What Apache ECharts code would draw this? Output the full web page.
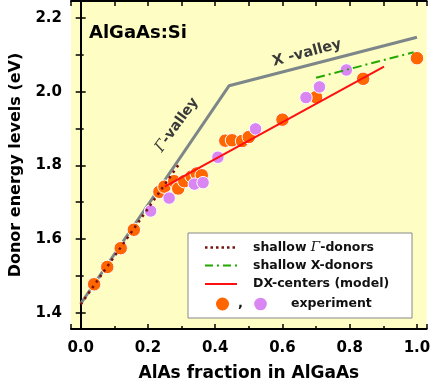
<!DOCTYPE html>
<html><head><meta charset="utf-8">
<script src="https://cdn.jsdelivr.net/npm/echarts@6/dist/echarts.min.js"></script>
<style>html,body{margin:0;padding:0;background:#fff}#c{width:433px;height:387px}</style>
</head><body><div id="c"></div>
<script>
// Band edges (gray): Gamma-valley then X-valley
const valleyX = [0, 0.441, 1.0];
const valleyY = [1.424, 2.016, 2.148];
// shallow Gamma-donors (dotted)
const gammaDonorX = [0, 0.29];
const gammaDonorY = [1.422, 1.800];
// shallow X-donors (dash-dot)
const xDonorX = [0.70, 0.99];
const xDonorY = [2.038, 2.107];
// DX-centers (model)
const dxX = [0.25, 0.902];
const dxY = [1.742, 2.068];
// experiment (orange)
const orangeX = [0.04, 0.079, 0.119, 0.158, 0.234, 0.249, 0.278, 0.29, 0.308, 0.33, 0.345, 0.36, 0.43, 0.45, 0.48, 0.50, 0.60, 0.70, 0.84, 1.0];
const orangeY = [1.477, 1.524, 1.575, 1.625, 1.728, 1.742, 1.757, 1.737, 1.757, 1.77, 1.778, 1.773, 1.867, 1.868, 1.866, 1.877, 1.924, 1.985, 2.035, 2.091];
// experiment (violet)
const violetX = [0.208, 0.263, 0.338, 0.364, 0.408, 0.52, 0.67, 0.71, 0.79];
const violetY = [1.676, 1.711, 1.749, 1.753, 1.822, 1.899, 1.984, 2.013, 2.059];
// axes
const xRange = [-0.0288, 1.0288];
const yRange = [1.3555, 2.2463];

const zip = (a, b) => a.map((v, i) => [v, b[i]]);
const FONT = 'DejaVu Sans';
const chart = echarts.init(document.getElementById('c'), null, {renderer: 'canvas', width: 433, height: 387});

const axisCommon = {
  axisLine: {show: true, lineStyle: {color: '#000', width: 2}},
  splitLine: {show: false},
  minorSplitLine: {show: false}
};

const option = {
  animation: false,
  backgroundColor: '#ffffff',
  grid: {left: 62, right: 4, top: 1, bottom: 52, show: true, backgroundColor: '#fdfdc4', borderWidth: 0},
  xAxis: [
    Object.assign({}, axisCommon, {
      type: 'value', min: xRange[0], max: xRange[1], position: 'bottom',
      axisTick: {inside: true, length: 5, lineStyle: {color: '#000', width: 1.5}},
      minorTick: {show: true, splitNumber: 2, length: 3, lineStyle: {color: '#000', width: 1.5}},
      axisLabel: {showMinLabel: false, showMaxLabel: false, margin: 12, fontFamily: FONT, fontWeight: 'bold', fontSize: 15, color: '#000', formatter: v => v.toFixed(1)},
      name: 'AlAs fraction in AlGaAs', nameLocation: 'middle', nameGap: 36,
      nameTextStyle: {fontFamily: FONT, fontWeight: 'bold', fontSize: 17, color: '#000'}
    }),
    Object.assign({}, axisCommon, {
      type: 'value', min: xRange[0], max: xRange[1], position: 'top',
      axisTick: {inside: true, length: 5, lineStyle: {color: '#000', width: 1.5}},
      minorTick: {show: true, splitNumber: 2, length: 5, lineStyle: {color: '#000', width: 1.5}},
      axisLabel: {show: false}
    })
  ],
  yAxis: [
    Object.assign({}, axisCommon, {
      type: 'value', min: yRange[0], max: yRange[1], position: 'left',
      axisTick: {inside: true, length: 5, lineStyle: {color: '#000', width: 1.5}},
      minorTick: {show: true, splitNumber: 2, length: 3, lineStyle: {color: '#000', width: 1.5}},
      axisLabel: {showMinLabel: false, showMaxLabel: false, margin: 9, fontFamily: FONT, fontWeight: 'bold', fontSize: 15, color: '#000', formatter: v => v.toFixed(1)},
      name: 'Donor energy levels (eV)', nameLocation: 'middle', nameGap: 47,
      nameTextStyle: {fontFamily: FONT, fontWeight: 'bold', fontSize: 16, color: '#000'}
    }),
    Object.assign({}, axisCommon, {
      type: 'value', min: yRange[0], max: yRange[1], position: 'right',
      axisTick: {inside: true, length: 5, lineStyle: {color: '#000', width: 1.5}},
      minorTick: {show: true, splitNumber: 2, length: 5, lineStyle: {color: '#000', width: 1.5}},
      axisLabel: {show: false}
    })
  ],
  series: [
    {type: 'line', name: 'valley', data: zip(valleyX, valleyY), symbol: 'none', z: 1,
      lineStyle: {color: '#7d8789', width: 3}},
    {type: 'scatter', name: 'exp1', data: zip(orangeX, orangeY), symbolSize: 13.5, z: 2,
      itemStyle: {color: '#ff6600', borderColor: '#ffffff', borderWidth: 1, opacity: 1}},
    {type: 'scatter', name: 'exp2', data: zip(violetX, violetY), symbolSize: 12.5, z: 3,
      itemStyle: {color: '#d985f2', borderColor: '#ffffff', borderWidth: 1, opacity: 1}},
    {type: 'line', name: 'gammaDonor', data: zip(gammaDonorX, gammaDonorY), symbol: 'none', z: 4,
      lineStyle: {color: '#7a1010', width: 2.5, type: [2.5, 4.2]}},
    {type: 'line', name: 'xDonor', data: zip(xDonorX, xDonorY), symbol: 'none', z: 4,
      lineStyle: {color: '#22a800', width: 2, type: [9, 4, 2, 4]}},
    {type: 'line', name: 'dx', data: zip(dxX, dxY), symbol: 'none', z: 4,
      lineStyle: {color: '#ff1010', width: 2}}
  ],
  graphic: [
    {type: 'text', left: 89, top: 24, z: 10, style: {text: 'AlGaAs:Si', fontFamily: FONT, fontWeight: 'bold', fontSize: 18, fill: '#000'}},
    {type: 'text', x: 177, y: 125, rotation: 54 * Math.PI / 180, z: 10,
      style: {text: '{g|Γ}-valley', align: 'center', verticalAlign: 'middle', fontFamily: FONT, fontWeight: 'bold', fontSize: 14, fill: '#3a3a3a',
        rich: {g: {fontFamily: 'DejaVu Serif', fontStyle: 'italic', fontWeight: 'normal', fontSize: 15, fill: '#3a3a3a'}}}},
    {type: 'text', x: 307, y: 53, rotation: 15 * Math.PI / 180, z: 10,
      style: {text: 'X -valley', align: 'center', verticalAlign: 'middle', fontFamily: FONT, fontWeight: 'bold', fontSize: 14.5, fill: '#3a3a3a'}},
    // legend box
    {type: 'rect', z: 20, shape: {x: 188, y: 233, width: 224, height: 85}, style: {fill: '#ffffff', stroke: '#888888', lineWidth: 1}},
    {type: 'line', z: 21, shape: {x1: 205, y1: 247.5, x2: 237, y2: 247.5}, style: {stroke: '#7a1010', lineWidth: 2.5, lineDash: [2.5, 3]}},
    {type: 'line', z: 21, shape: {x1: 205, y1: 265.5, x2: 237, y2: 265.5}, style: {stroke: '#22a800', lineWidth: 2, lineDash: [8, 4, 2, 4]}},
    {type: 'line', z: 21, shape: {x1: 205, y1: 284, x2: 237, y2: 284}, style: {stroke: '#ff1010', lineWidth: 2}},
    {type: 'circle', z: 21, shape: {cx: 222.5, cy: 304, r: 6.5}, style: {fill: '#ff6600'}},
    {type: 'circle', z: 21, shape: {cx: 260.5, cy: 304, r: 6.3}, style: {fill: '#d985f2'}},
    {type: 'text', z: 21, x: 238, y: 304, style: {text: ',', verticalAlign: 'middle', fontFamily: FONT, fontWeight: 'bold', fontSize: 13, fill: '#111'}},
    {type: 'text', z: 21, x: 253, y: 247.5, style: {text: 'shallow {g|Γ}-donors', verticalAlign: 'middle', fontFamily: FONT, fontWeight: 'bold', fontSize: 12.5, fill: '#111',
      rich: {g: {fontFamily: 'DejaVu Serif', fontStyle: 'italic', fontWeight: 'normal', fontSize: 13.5, fill: '#111'}}}},
    {type: 'text', z: 21, x: 253, y: 265.5, style: {text: 'shallow X-donors', verticalAlign: 'middle', fontFamily: FONT, fontWeight: 'bold', fontSize: 12.5, fill: '#111'}},
    {type: 'text', z: 21, x: 253, y: 284, style: {text: 'DX-centers (model)', verticalAlign: 'middle', fontFamily: FONT, fontWeight: 'bold', fontSize: 12.5, fill: '#111'}},
    {type: 'text', z: 21, x: 291, y: 303.5, style: {text: 'experiment', verticalAlign: 'middle', fontFamily: FONT, fontWeight: 'bold', fontSize: 12.5, fill: '#111'}}
  ]
};
chart.setOption(option);
</script></body></html>
